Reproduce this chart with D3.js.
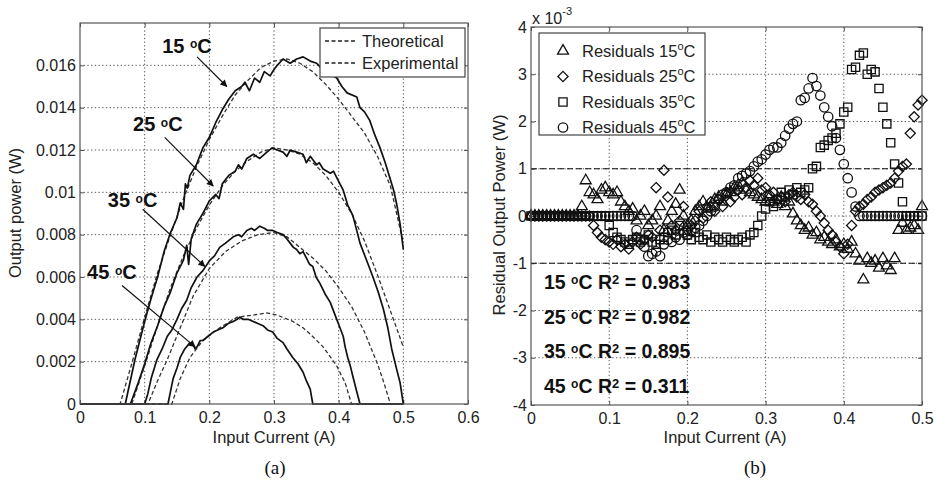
<!DOCTYPE html>
<html>
<head>
<meta charset="utf-8">
<script src="https://cdn.jsdelivr.net/npm/d3@7"></script>
<style>
body { margin: 0; background: #fff; }
svg { font-family: "Liberation Sans", Arial, sans-serif; }
.axis text { font-size: 16px; fill: #222; }
.axis line { stroke: #555; }
.axis .domain { display: none; }
.grid line { stroke: #555; stroke-width: 1; stroke-dasharray: 1.3,2.4; }
</style>
</head>
<body>
<svg id="chart" width="935" height="485"></svg>
<script>
// ---- panel (a): output power vs input current, [current (A), power (W)]
var theo15 = [[0,0],[0.062,0],[0.08,0.0019],[0.1,0.0041],[0.12,0.0062],[0.14,0.008],[0.16,0.0097],[0.18,0.0112],[0.2,0.0125],[0.22,0.0136],[0.24,0.0146],[0.26,0.0153],[0.28,0.0159],[0.3,0.0162],[0.32,0.0163],[0.34,0.0161],[0.36,0.0157],[0.38,0.0151],[0.4,0.0144],[0.42,0.0136],[0.44,0.0128],[0.46,0.0117],[0.48,0.0103],[0.5,0.0076]];
var exp15 = [[0,0],[0.07,0],[0.085,0.0021],[0.1,0.0039],[0.11,0.005],[0.12,0.006],[0.13,0.0072],[0.14,0.0081],[0.15,0.0088],[0.155,0.0095],[0.16,0.0092],[0.163,0.0104],[0.166,0.0102],[0.17,0.0108],[0.18,0.0113],[0.19,0.0121],[0.2,0.0126],[0.21,0.0133],[0.22,0.0139],[0.23,0.0144],[0.24,0.0148],[0.25,0.015],[0.255,0.0152],[0.262,0.0148],[0.27,0.0154],[0.278,0.0152],[0.285,0.0157],[0.294,0.0155],[0.3,0.0158],[0.305,0.016],[0.314,0.0163],[0.325,0.0161],[0.335,0.0163],[0.345,0.0164],[0.356,0.0162],[0.366,0.0161],[0.375,0.0158],[0.382,0.0157],[0.397,0.0154],[0.405,0.015],[0.413,0.0147],[0.428,0.0145],[0.433,0.014],[0.44,0.0138],[0.448,0.0134],[0.456,0.0127],[0.464,0.0121],[0.472,0.0114],[0.479,0.0107],[0.485,0.0101],[0.49,0.0094],[0.495,0.0085],[0.5,0.0073]];
var theo25 = [[0,0],[0.08,0],[0.1,0.0018],[0.12,0.0037],[0.14,0.0055],[0.16,0.007],[0.18,0.0083],[0.2,0.0094],[0.22,0.0103],[0.24,0.011],[0.26,0.0115],[0.28,0.0119],[0.3,0.0121],[0.32,0.012],[0.34,0.0118],[0.36,0.0114],[0.38,0.0108],[0.4,0.01],[0.42,0.009],[0.44,0.0077],[0.46,0.0061],[0.48,0.0044],[0.5,0.0027]];
var exp25 = [[0,0],[0.078,0],[0.09,0.001],[0.1,0.0019],[0.11,0.0029],[0.12,0.0037],[0.13,0.0046],[0.14,0.0053],[0.15,0.0062],[0.16,0.0068],[0.165,0.0075],[0.168,0.0066],[0.172,0.0078],[0.18,0.0085],[0.19,0.009],[0.2,0.0096],[0.21,0.0099],[0.215,0.0097],[0.22,0.0104],[0.23,0.0108],[0.24,0.011],[0.245,0.0113],[0.25,0.0111],[0.258,0.0116],[0.268,0.0118],[0.278,0.0116],[0.289,0.0119],[0.297,0.0121],[0.305,0.012],[0.314,0.0119],[0.32,0.0117],[0.325,0.012],[0.335,0.0119],[0.345,0.0118],[0.35,0.0114],[0.356,0.0117],[0.366,0.0113],[0.37,0.0114],[0.376,0.0111],[0.387,0.0109],[0.392,0.011],[0.397,0.0107],[0.407,0.0101],[0.414,0.0094],[0.422,0.0089],[0.433,0.0076],[0.443,0.0068],[0.453,0.006],[0.461,0.0053],[0.469,0.0045],[0.476,0.0036],[0.482,0.0026],[0.49,0.0016],[0.495,0.001],[0.5,0]];
var theo35 = [[0,0],[0.105,0],[0.12,0.0011],[0.135,0.0021],[0.155,0.0036],[0.175,0.0051],[0.2,0.0064],[0.225,0.0072],[0.25,0.0077],[0.275,0.008],[0.3,0.0081],[0.32,0.0079],[0.34,0.0074],[0.36,0.0069],[0.38,0.0063],[0.4,0.0055],[0.42,0.0046],[0.44,0.0034],[0.46,0.0019],[0.47,0.001],[0.48,0],[0.5,0]];
var exp35 = [[0,0],[0.1,0],[0.105,0.0005],[0.11,0.0012],[0.119,0.0021],[0.127,0.0026],[0.135,0.0032],[0.142,0.0035],[0.15,0.004],[0.157,0.0045],[0.165,0.0049],[0.172,0.0055],[0.181,0.006],[0.19,0.0063],[0.201,0.0068],[0.208,0.007],[0.216,0.0074],[0.225,0.0076],[0.237,0.0079],[0.245,0.008],[0.25,0.0079],[0.258,0.0082],[0.265,0.0083],[0.27,0.0082],[0.278,0.0084],[0.285,0.0083],[0.29,0.0082],[0.298,0.0082],[0.305,0.0081],[0.314,0.008],[0.32,0.0078],[0.325,0.0076],[0.33,0.0074],[0.335,0.0073],[0.34,0.0071],[0.345,0.0072],[0.35,0.0069],[0.355,0.0066],[0.36,0.0065],[0.365,0.006],[0.371,0.0057],[0.379,0.0052],[0.387,0.0048],[0.392,0.0044],[0.397,0.004],[0.402,0.0036],[0.407,0.0032],[0.41,0.0027],[0.414,0.0022],[0.418,0.0018],[0.422,0.0013],[0.427,0.0007],[0.433,0],[0.5,0]];
var theo45 = [[0,0],[0.142,0],[0.155,0.0012],[0.17,0.0022],[0.19,0.003],[0.216,0.0036],[0.243,0.0041],[0.268,0.0042],[0.289,0.0043],[0.305,0.0042],[0.329,0.0039],[0.345,0.0036],[0.356,0.0033],[0.376,0.0027],[0.39,0.0021],[0.397,0.0018],[0.41,0.001],[0.42,0],[0.5,0]];
var exp45 = [[0,0],[0.136,0],[0.14,0.0006],[0.144,0.0012],[0.15,0.0017],[0.155,0.0022],[0.162,0.0026],[0.17,0.0029],[0.175,0.0028],[0.178,0.0026],[0.181,0.0027],[0.186,0.003],[0.19,0.003],[0.198,0.0032],[0.206,0.0034],[0.213,0.0035],[0.221,0.0036],[0.229,0.0038],[0.237,0.0039],[0.243,0.004],[0.247,0.0041],[0.252,0.004],[0.26,0.004],[0.268,0.0039],[0.275,0.0038],[0.283,0.0037],[0.29,0.0035],[0.298,0.0034],[0.305,0.0031],[0.314,0.0029],[0.32,0.0026],[0.329,0.0022],[0.337,0.0019],[0.345,0.0015],[0.35,0.0011],[0.356,0.0007],[0.36,0],[0.5,0]];

var ticksAx = [0, 0.1, 0.2, 0.3, 0.4, 0.5, 0.6];
var labelsAx = ['0', '0.1', '0.2', '0.3', '0.4', '0.5', '0.6'];
var ticksAy = [0, 0.002, 0.004, 0.006, 0.008, 0.01, 0.012, 0.014, 0.016];
var labelsAy = ['0', '0.002', '0.004', '0.006', '0.008', '0.01', '0.012', '0.014', '0.016'];

// temperature labels with arrow [labelI, labelP, fromI, fromP, toI, toP]
var tempNames = ['15', '25', '35', '45'];
var tempNotes = [[0.127,0.0166,0.181,0.0164,0.227,0.0150],[0.082,0.0129,0.131,0.0126,0.206,0.0103],[0.043,0.0093,0.097,0.0092,0.193,0.0065],[0.011,0.0059,0.065,0.0056,0.178,0.0027]];

// ---- panel (b): residuals (x 10^-3 W) sampled every 0.005 A
var resCurrent = [0,0.005,0.01,0.015,0.02,0.025,0.03,0.035,0.04,0.045,0.05,0.055,0.06,0.065,0.07,0.075,0.08,0.085,0.09,0.095,0.1,0.105,0.11,0.115,0.12,0.125,0.13,0.135,0.14,0.145,0.15,0.155,0.16,0.165,0.17,0.175,0.18,0.185,0.19,0.195,0.2,0.205,0.21,0.215,0.22,0.225,0.23,0.235,0.24,0.245,0.25,0.255,0.26,0.265,0.27,0.275,0.28,0.285,0.29,0.295,0.3,0.305,0.31,0.315,0.32,0.325,0.33,0.335,0.34,0.345,0.35,0.355,0.36,0.365,0.37,0.375,0.38,0.385,0.39,0.395,0.4,0.405,0.41,0.415,0.42,0.425,0.43,0.435,0.44,0.445,0.45,0.455,0.46,0.465,0.47,0.475,0.48,0.485,0.49,0.495,0.5];
var res15 = [0,0,0,0,0,0,0,0,0,0,0,0,0,0.2,0.75,0.5,0.45,0.35,0.55,0.6,0.5,0.45,0.5,0.3,0.2,0.1,0.15,-0.1,0,0.1,-0.2,-0.1,0,0.2,-0.3,-0.1,0.1,0.25,0.55,0,-0.2,-0.1,0.1,0.2,0.3,0.15,0.2,0.35,0.4,0.3,0.45,0.5,0.6,0.65,0.7,0.55,0.5,0.45,0.4,0.35,0.3,0.4,0.3,0.25,0.4,0.2,0.3,0.05,-0.1,-0.2,-0.3,-0.25,-0.4,-0.35,-0.5,-0.45,-0.55,-0.6,-0.5,-0.65,-0.6,-0.7,-0.55,-0.8,-0.95,-1.35,-0.9,-1.0,-0.95,-1.1,-0.9,-1.05,-1.15,-0.9,-0.3,-0.15,-0.3,-0.25,-0.2,-0.3,0.2];
var res25 = [0,0,0,0,0,0,0,0,0,0,0,0,0,0,0,0,-0.2,-0.35,-0.45,-0.5,-0.55,-0.6,-0.5,-0.65,-0.6,-0.7,-0.55,-0.45,-0.6,-0.5,-0.4,-0.45,0.6,-0.3,0.97,0.4,-0.2,-0.3,-0.1,0.2,-0.3,-0.2,-0.1,0.1,-0.05,0.2,0.3,0.1,0.35,0.2,0.5,0.3,0.4,0.55,0.45,0.6,0.75,0.65,0.8,0.55,0.6,0.45,0.5,0.35,0.4,0.3,0.45,0.5,0.4,0.35,0.45,0.3,0.25,0.1,0,-0.15,-0.3,-0.4,-0.55,-0.65,-0.8,-0.6,-0.2,0.1,0.2,0.25,0.35,0.4,0.5,0.55,0.6,0.65,0.7,0.8,0.95,1.05,1.1,1.75,2.1,2.35,2.45];
var res35 = [0,0,0,0,0,0,0,0,0,0,0,0,0,0,0,0,0,0,0,0,-0.2,-0.35,-0.45,-0.5,-0.55,-0.6,-0.5,-0.45,-0.55,-0.5,-0.4,-0.55,-0.6,-0.5,-0.45,-0.35,-0.3,-0.4,-0.2,-0.3,-0.4,-0.5,-0.35,-0.45,-0.5,-0.4,-0.55,-0.45,-0.5,-0.55,-0.45,-0.5,-0.55,-0.5,-0.45,-0.55,-0.4,-0.35,-0.2,0,0.15,0.3,0.2,0.35,0.5,0.4,0.55,0.45,0.6,0.5,0.55,0.6,1.0,1.05,1.45,1.5,1.6,1.65,1.75,1.95,2.2,2.3,3.1,3.15,3.4,3.45,3.0,3.1,3.05,2.7,2.3,1.95,1.55,1.1,0.7,0.3,0,0,0,0,0];
var res45 = [0,0,0,0,0,0,0,0,0,0,0,0,0,0,0,0,0,0,0,0,0,0,0,0,0,0,0,-0.3,-0.5,-0.65,-0.85,-0.8,-0.75,-0.85,-0.6,-0.5,-0.55,-0.45,-0.5,-0.35,-0.4,-0.3,-0.25,-0.2,-0.1,0,0.1,0.2,0.35,0.45,0.5,0.6,0.65,0.8,0.85,0.9,0.95,1.05,1.15,1.2,1.3,1.4,1.45,1.45,1.55,1.7,1.85,1.95,2.0,2.45,2.5,2.7,2.92,2.75,2.55,2.3,2.1,1.9,1.65,1.4,1.1,0.8,0.5,0.2,0,0,0,0,0,0,0,0,0,0,0,0,0,0,0,0,0];
var r2Values = ['0.983', '0.982', '0.895', '0.311'];

var ticksBx = [0, 0.1, 0.2, 0.3, 0.4, 0.5];
var labelsBx = ['0', '0.1', '0.2', '0.3', '0.4', '0.5'];
var ticksBy = [-4, -3, -2, -1, 0, 1, 2, 3, 4];
var labelsBy = ['-4', '-3', '-2', '-1', '0', '1', '2', '3', '4'];

var svg = d3.select('#chart');
svg.append('rect').attr('width', 935).attr('height', 485).attr('fill', '#fff');

var defs = svg.append('defs');
defs.append('marker')
    .attr('id', 'arrow')
    .attr('viewBox', '0 0 10 10')
    .attr('refX', 9).attr('refY', 5)
    .attr('markerWidth', 9).attr('markerHeight', 7)
    .attr('markerUnits', 'userSpaceOnUse')
    .attr('orient', 'auto')
    .append('path').attr('d', 'M0,0L10,5L0,10Z').attr('fill', '#111');

var xA = d3.scaleLinear().domain([0, 0.6]).range([80, 468]);
var yA = d3.scaleLinear().domain([0, 0.018]).range([404, 23]);
var xB = d3.scaleLinear().domain([0, 0.5]).range([531, 922]);
var yB = d3.scaleLinear().domain([-4, 4]).range([405, 27]);

function drawFrame(x, y, xt, xl, yt, yl) {
    var x0 = x.range()[0], x1 = x.range()[1];
    var y0 = y.range()[1], y1 = y.range()[0];
    var grid = svg.append('g').attr('class', 'grid');
    grid.selectAll('.gx').data(xt.filter(d => x(d) > x0 + 1 && x(d) < x1 - 1))
        .enter().append('line')
        .attr('x1', d => x(d)).attr('x2', d => x(d))
        .attr('y1', y0).attr('y2', y1);
    grid.selectAll('.gy').data(yt.filter(d => y(d) > y0 + 1 && y(d) < y1 - 1))
        .enter().append('line')
        .attr('x1', x0).attr('x2', x1)
        .attr('y1', d => y(d)).attr('y2', d => y(d));

    svg.append('g').attr('class', 'axis')
        .attr('transform', `translate(0,${y1})`)
        .call(d3.axisBottom(x).tickValues(xt).tickFormat((d, i) => xl[i]).tickSize(-4).tickPadding(8));
    svg.append('g').attr('class', 'axis')
        .attr('transform', `translate(0,${y0})`)
        .call(d3.axisTop(x).tickValues(xt).tickFormat('').tickSize(-4));
    svg.append('g').attr('class', 'axis')
        .attr('transform', `translate(${x0},0)`)
        .call(d3.axisLeft(y).tickValues(yt).tickFormat((d, i) => yl[i]).tickSize(-4).tickPadding(4));
    svg.append('g').attr('class', 'axis')
        .attr('transform', `translate(${x1},0)`)
        .call(d3.axisRight(y).tickValues(yt).tickFormat('').tickSize(-4));
    svg.selectAll('.axis text').attr('font-family', null);
}

function addTemp(sel, t) {
    sel.append('tspan').text(t + ' ');
    sel.append('tspan').attr('font-size', '0.6em').attr('dy', '-0.35em').text('o');
    sel.append('tspan').attr('dy', '0.21em').text('C');
}

// ===== panel (a)
drawFrame(xA, yA, ticksAx, labelsAx, ticksAy, labelsAy);

var lineA = d3.line().x(d => xA(d[0])).y(d => yA(d[1]));
var curvesA = [theo15, theo25, theo35, theo45];
var expA = [exp15, exp25, exp35, exp45];

svg.append('g').selectAll('path').data(curvesA).enter().append('path')
    .attr('d', lineA).attr('fill', 'none')
    .attr('stroke', '#333').attr('stroke-width', 1.3).attr('stroke-dasharray', '4,2.5');
svg.append('g').selectAll('path').data(expA).enter().append('path')
    .attr('d', lineA).attr('fill', 'none')
    .attr('stroke', '#111').attr('stroke-width', 1.7).attr('stroke-linejoin', 'round');

svg.append('rect').attr('x', 80).attr('y', 23).attr('width', 388).attr('height', 381)
    .attr('fill', 'none').attr('stroke', '#555').attr('stroke-width', 1.2);

// temperature annotations
tempNotes.forEach(function (n, i) {
    var t = svg.append('text')
        .attr('x', xA(n[0])).attr('y', yA(n[1]))
        .attr('font-size', 20).attr('font-weight', 'bold').attr('fill', '#111');
    addTemp(t, tempNames[i]);
    svg.append('line')
        .attr('x1', xA(n[2])).attr('y1', yA(n[3]))
        .attr('x2', xA(n[4])).attr('y2', yA(n[5]))
        .attr('stroke', '#111').attr('stroke-width', 1.2)
        .attr('marker-end', 'url(#arrow)');
});

// legend (a)
var legA = svg.append('g');
legA.append('rect').attr('x', 320).attr('y', 28).attr('width', 145).attr('height', 49)
    .attr('fill', '#fff').attr('stroke', '#444').attr('stroke-width', 1.2);
['Theoretical', 'Experimental'].forEach(function (s, i) {
    var yy = 41 + i * 22;
    legA.append('line').attr('x1', 325).attr('x2', 357).attr('y1', yy).attr('y2', yy)
        .attr('stroke', '#222').attr('stroke-width', 1.3).attr('stroke-dasharray', '4,2.5');
    legA.append('text').attr('x', 362).attr('y', yy).attr('dy', '0.35em')
        .attr('font-size', 16.5).attr('fill', '#222').text(s);
});

svg.append('text').attr('x', 274).attr('y', 443).attr('text-anchor', 'middle')
    .attr('font-size', 16.5).attr('fill', '#222').text('Input Current (A)');
svg.append('text').attr('transform', 'translate(15,213) rotate(-90)')
    .attr('text-anchor', 'middle').attr('dy', '0.35em')
    .attr('font-size', 16.5).attr('fill', '#222').text('Output power (W)');

// ===== panel (b)
drawFrame(xB, yB, ticksBx, labelsBx, ticksBy, labelsBy);

[1, -1].forEach(function (v) {
    svg.append('line').attr('x1', xB(0)).attr('x2', xB(0.5))
        .attr('y1', yB(v)).attr('y2', yB(v))
        .attr('stroke', '#111').attr('stroke-width', 1.2).attr('stroke-dasharray', '6,3');
});

var symTypes = [d3.symbolTriangle, d3.symbolDiamond2, d3.symbolSquare, d3.symbolCircle];
var symSizes = [52, 66, 68, 70];
var resSeries = [res15, res25, res35, res45];

resSeries.forEach(function (vals, k) {
    var sym = d3.symbol().type(symTypes[k]).size(symSizes[k]);
    svg.append('g').selectAll('path').data(vals).enter().append('path')
        .attr('transform', (d, i) => `translate(${xB(resCurrent[i])},${yB(d)})`)
        .attr('d', sym).attr('fill', 'none')
        .attr('stroke', '#111').attr('stroke-width', 1.3);
});

svg.append('rect').attr('x', 531).attr('y', 27).attr('width', 391).attr('height', 378)
    .attr('fill', 'none').attr('stroke', '#555').attr('stroke-width', 1.2);

// exponent label
var expo = svg.append('text').attr('x', 532).attr('y', 24)
    .attr('font-size', 16).attr('fill', '#222');
expo.append('tspan').text('x 10');
expo.append('tspan').attr('font-size', 11).attr('dy', -9).text('-3');

// legend (b)
var legB = svg.append('g');
legB.append('rect').attr('x', 539).attr('y', 33).attr('width', 166).attr('height', 102)
    .attr('fill', '#fff').attr('stroke', '#444').attr('stroke-width', 1.2);
tempNames.forEach(function (s, k) {
    var yy = 51 + k * 25.5;
    legB.append('path').attr('transform', `translate(563,${yy})`)
        .attr('d', d3.symbol().type(symTypes[k]).size(symSizes[k]))
        .attr('fill', 'none').attr('stroke', '#111').attr('stroke-width', 1.3);
    var t = legB.append('text').attr('x', 582).attr('y', yy).attr('dy', '0.35em')
        .attr('font-size', 16.5).attr('fill', '#222');
    t.append('tspan').text('Residuals ' + s);
    t.append('tspan').attr('font-size', 11).attr('dy', -7).text('o');
    t.append('tspan').attr('dy', 7).text('C');
});

// R^2 labels
r2Values.forEach(function (v, k) {
    var t = svg.append('text').attr('x', 544).attr('y', 289 + k * 34.5)
        .attr('font-size', 19.5).attr('font-weight', 'bold').attr('fill', '#111');
    t.append('tspan').text(tempNames[k] + ' ');
    t.append('tspan').attr('font-size', 12).attr('dy', -5).text('o');
    t.append('tspan').attr('dy', 5).text('C R');
    t.append('tspan').attr('font-size', 13).attr('dy', -5).text('2');
    t.append('tspan').attr('dy', 5).text(' = ' + v);
});

svg.append('text').attr('x', 725).attr('y', 443).attr('text-anchor', 'middle')
    .attr('font-size', 16.5).attr('fill', '#222').text('Input Current (A)');
svg.append('text').attr('transform', 'translate(499,215) rotate(-90)')
    .attr('text-anchor', 'middle').attr('dy', '0.35em')
    .attr('font-size', 16.5).attr('fill', '#222').text('Residual Output Power (W)');

// captions
svg.append('text').attr('x', 275).attr('y', 474).attr('text-anchor', 'middle')
    .attr('font-family', '"Liberation Serif", "Times New Roman", serif')
    .attr('font-size', 19).attr('fill', '#111').text('(a)');
svg.append('text').attr('x', 755).attr('y', 474).attr('text-anchor', 'middle')
    .attr('font-family', '"Liberation Serif", "Times New Roman", serif')
    .attr('font-size', 19).attr('fill', '#111').text('(b)');
</script>
</body>
</html>
